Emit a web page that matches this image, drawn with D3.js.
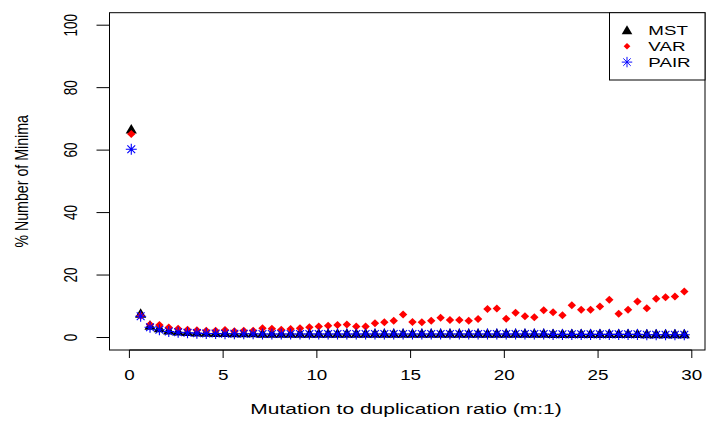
<!DOCTYPE html>
<html>
<head>
<meta charset="utf-8">
<script src="https://cdn.jsdelivr.net/npm/d3@7"></script>
<style>
  body { margin: 0; background: #fff; }
  svg text { font-family: "Liberation Sans", Arial, Helvetica, sans-serif; fill: #000; }
</style>
</head>
<body>
<div id="chart"></div>
<script>
// data
var ratio = [0.1, 0.6, 1.1, 1.6, 2.1, 2.6, 3.1, 3.6, 4.1, 4.6,
	5.1, 5.6, 6.1, 6.6, 7.1, 7.6, 8.1, 8.6, 9.1, 9.6,
	10.1, 10.6, 11.1, 11.6, 12.1, 12.6, 13.1, 13.6, 14.1, 14.6,
	15.1, 15.6, 16.1, 16.6, 17.1, 17.6, 18.1, 18.6, 19.1, 19.6,
	20.1, 20.6, 21.1, 21.6, 22.1, 22.6, 23.1, 23.6, 24.1, 24.6,
	25.1, 25.6, 26.1, 26.6, 27.1, 27.6, 28.1, 28.6, 29.1, 29.6];

var mst = [66.6, 7.6, 3.7, 2.9, 2.2, 1.9, 1.7, 1.6, 1.5, 1.4,
	1.4, 1.3, 1.3, 1.3, 1.2, 1.2, 1.2, 1.2, 1.2, 1.2,
	1.2, 1.2, 1.2, 1.2, 1.2, 1.2, 1.2, 1.2, 1.2, 1.2,
	1.2, 1.2, 1.2, 1.2, 1.2, 1.2, 1.2, 1.2, 1.2, 1.2,
	1.2, 1.2, 1.2, 1.2, 1.2, 1.1, 1.1, 1.1, 1.1, 1.1,
	1.1, 1.1, 1.1, 1.1, 1.1, 1.0, 1.0, 1.0, 1.0, 1.0];

var varr = [65.2, 7.0, 4.2, 4.0, 3.2, 2.8, 2.5, 2.3, 2.2, 2.2,
	2.4, 2.0, 2.2, 2.2, 3.0, 2.8, 2.5, 2.7, 3.0, 3.3,
	3.5, 3.8, 4.0, 4.2, 3.5, 3.5, 4.6, 4.9, 5.4, 7.4,
	5.0, 4.9, 5.4, 6.3, 5.6, 5.6, 5.4, 5.9, 9.1, 9.3,
	6.0, 7.9, 6.8, 6.5, 8.7, 8.1, 7.1, 10.3, 8.9, 8.9,
	9.9, 12.1, 7.6, 8.9, 11.5, 9.4, 12.4, 12.9, 13.1, 14.7];

var pair = [60.3, 6.8, 3.3, 2.5, 1.9, 1.7, 1.5, 1.4, 1.3, 1.3,
	1.2, 1.2, 1.2, 1.2, 1.1, 1.1, 1.1, 1.1, 1.1, 1.1,
	1.1, 1.1, 1.1, 1.1, 1.1, 1.1, 1.1, 1.1, 1.1, 1.1,
	1.1, 1.1, 1.1, 1.1, 1.1, 1.1, 1.1, 1.1, 1.1, 1.1,
	1.1, 1.1, 1.1, 1.1, 1.1, 1.0, 1.0, 1.0, 1.0, 1.0,
	1.0, 1.0, 1.0, 1.0, 1.0, 0.9, 0.9, 0.9, 0.9, 0.9];

var xTicks = [0, 5, 10, 15, 20, 25, 30];
var yTicks = [0, 20, 40, 60, 80, 100];
var seriesNames = ["MST", "VAR", "PAIR"];

var width = 707, height = 421;
var box = { left: 109.5, right: 705, top: 12.7, bottom: 350 };

var svg = d3.select("#chart").append("svg")
	.attr("width", width)
	.attr("height", height);

var x = d3.scaleLinear().domain([0, 30]).range([129.4, 691.8]);
var y = d3.scaleLinear().domain([-4, 104]).range([box.bottom, box.top]);

// marker paths (R pch 17, 18, 8)
var shapes = {
	MST: { d: "M0,-5.6L5.6,3.9L-5.6,3.9Z", fill: "#000", stroke: "none" },
	VAR: { d: "M0,-4L4.2,0L0,4L-4.2,0Z", fill: "#ff0000", stroke: "none" },
	PAIR: { d: "M-5.5,0H5.5M0,-5.5V5.5M-3.9,-3.9L3.9,3.9M-3.9,3.9L3.9,-3.9", fill: "none", stroke: "#0000ff" }
};

// text with a horizontal stretch, like the picture
function label(g, txt, px, py, size, sx, anchor, rot) {
	var tr = "translate(" + px + "," + py + ")" + (rot ? " rotate(-90) scale(1," + sx + ")" : " scale(" + sx + ",1)");
	return g.append("text")
		.attr("transform", tr)
		.attr("text-anchor", anchor)
		.style("font-size", size + "px")
		.text(txt);
}

// plot box
svg.append("rect")
	.attr("x", box.left).attr("y", box.top)
	.attr("width", box.right - box.left).attr("height", box.bottom - box.top)
	.attr("fill", "none").attr("stroke", "#000").attr("stroke-width", 1);

// x axis
var xg = svg.append("g");
xg.append("line")
	.attr("x1", x(0)).attr("x2", x(30))
	.attr("y1", box.bottom).attr("y2", box.bottom)
	.attr("stroke", "#000");
xTicks.forEach(function(t) {
	xg.append("line")
		.attr("x1", x(t)).attr("x2", x(t))
		.attr("y1", box.bottom).attr("y2", box.bottom + 8)
		.attr("stroke", "#000");
	label(xg, t, x(t), 380, 14.5, 1.3, "middle", false);
});

// y axis
var yg = svg.append("g");
yTicks.forEach(function(t) {
	yg.append("line")
		.attr("x1", box.left - 13).attr("x2", box.left)
		.attr("y1", y(t)).attr("y2", y(t))
		.attr("stroke", "#000");
	label(yg, t, 76.5, y(t), 13.5, 1.3, "middle", true);
});

// axis titles
label(svg, "Mutation to duplication ratio (m:1)", 406, 414.3, 15, 1.4, "middle", false);
label(svg, "% Number of Minima", 28, (box.top + box.bottom) / 2, 14.2, 1.3, "middle", true);

// points, drawn in the same order as the original: MST, VAR, PAIR
var series = [
	{ name: "MST", values: mst },
	{ name: "VAR", values: varr },
	{ name: "PAIR", values: pair }
];

series.forEach(function(s) {
	var sh = shapes[s.name];
	svg.append("g").selectAll("path")
		.data(s.values)
		.enter().append("path")
		.attr("transform", function(d, i) { return "translate(" + x(ratio[i]) + "," + y(d) + ")"; })
		.attr("d", sh.d)
		.attr("fill", sh.fill)
		.attr("stroke", sh.stroke)
		.attr("stroke-width", 1.1);
});

// legend
var lg = svg.append("g");
lg.append("rect")
	.attr("x", 609.5).attr("y", box.top)
	.attr("width", box.right - 609.5).attr("height", 80 - box.top)
	.attr("fill", "#fff").attr("stroke", "#000");
seriesNames.forEach(function(n, i) {
	var cy = 30.5 + i * 15.8;
	var sh = shapes[n];
	lg.append("path")
		.attr("transform", "translate(627," + cy + ") scale(" + (n === "VAR" ? 0.8 : 0.95) + ")")
		.attr("d", sh.d)
		.attr("fill", sh.fill)
		.attr("stroke", sh.stroke);
	label(lg, n, 648.3, cy + 4.6, 12.5, 1.5, "start", false);
});
</script>
</body>
</html>
